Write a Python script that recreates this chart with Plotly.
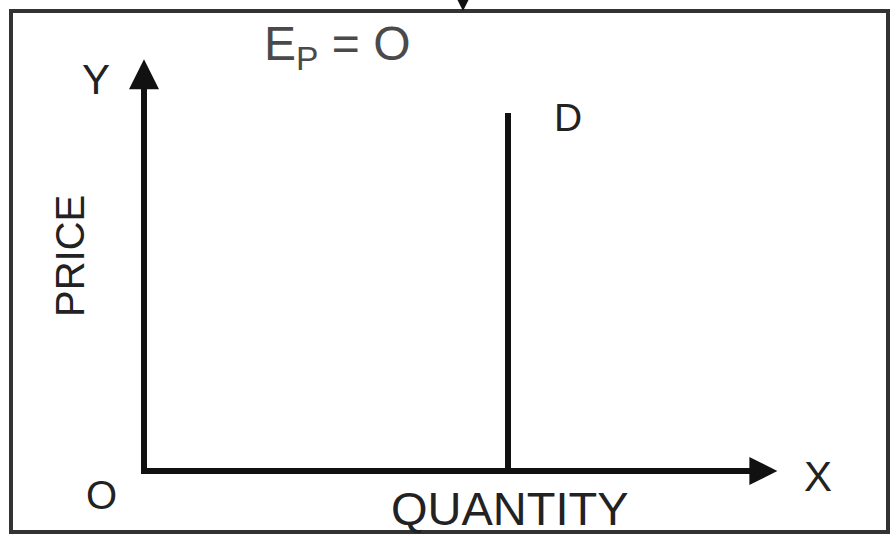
import plotly.graph_objects as go

# ---- data ----
demand_quantity = [5, 5]          # perfectly inelastic demand: fixed quantity
demand_price = [0, 10]            # price range covered by the demand curve
x_axis_end = 8.7                  # quantity axis arrow tip
y_axis_end = 11.5                 # price axis arrow tip
title_text = "E<sub>P</sub> = O"
x_label = "QUANTITY"
y_label = "PRICE"
demand_label = "D"

W, H = 896, 536
# axis scaling (data -> pixels)
X0_PX, Y0_PX = 144, 471
XS = (508 - 144) / 5.0
YS = (471 - 113) / 10.0
xr = [-X0_PX / XS, (W - X0_PX) / XS]
yr = [-(H - Y0_PX) / YS, Y0_PX / YS]

def dx(px):
    return (px - X0_PX) / XS

def dy(py):
    return (Y0_PX - py) / YS

INK = "#111111"
TXT = "#222222"
FONT = "Liberation Sans, Arial, sans-serif"

fig = go.Figure()
# demand curve
fig.add_trace(go.Scatter(x=demand_quantity, y=demand_price, mode="lines",
                         line=dict(color=INK, width=6), hoverinfo="skip",
                         showlegend=False))
# price axis (vertical) with arrow
fig.add_trace(go.Scatter(x=[0, 0], y=[dy(Y0_PX + 3), y_axis_end - 0.3], mode="lines",
                         line=dict(color=INK, width=6), hoverinfo="skip", showlegend=False))
fig.add_trace(go.Scatter(x=[0], y=[y_axis_end], mode="markers",
                         marker=dict(symbol="arrow-up", size=30, color=INK),
                         hoverinfo="skip", showlegend=False))
# quantity axis (horizontal) with arrow
fig.add_trace(go.Scatter(x=[dx(141), x_axis_end - 0.15], y=[0, 0], mode="lines",
                         line=dict(color=INK, width=6), hoverinfo="skip", showlegend=False))
fig.add_trace(go.Scatter(x=[x_axis_end], y=[0], mode="markers",
                         marker=dict(symbol="arrow-right", size=28, color=INK),
                         hoverinfo="skip", showlegend=False))
# small arrow at top of the frame
fig.add_trace(go.Scatter(x=[dx(463)], y=[dy(11)], mode="markers",
                         marker=dict(symbol="arrow-down", size=11, color=INK),
                         hoverinfo="skip", showlegend=False))

ann = []

def label(text, px, py, size, color=TXT, angle=0):
    ann.append(dict(x=dx(px), y=dy(py), xref="x", yref="y", text=text, showarrow=False,
                    font=dict(family=FONT, size=size, color=color), textangle=angle,
                    xanchor="center", yanchor="middle"))

label(title_text, 337, 47, 48, color="#4a4a4a")
label("Y", 96, 79, 42)
label("X", 818, 476, 42)
label("O", 101, 495, 40)
label(demand_label, 568, 117, 39)
label(x_label, 510, 508, 47)
label(y_label, 70, 256, 40, angle=-90)

fig.update_layout(
    width=W, height=H,
    margin=dict(l=0, r=0, t=0, b=0),
    paper_bgcolor="white", plot_bgcolor="white",
    xaxis=dict(range=xr, visible=False, fixedrange=True),
    yaxis=dict(range=yr, visible=False, fixedrange=True),
    annotations=ann,
    shapes=[dict(type="rect", xref="paper", yref="paper",
                 x0=11 / W, x1=888 / W, y0=1 - 532 / H, y1=1 - 11 / H,
                 line=dict(color="#333333", width=4), fillcolor="rgba(0,0,0,0)",
                 layer="below")],
)

fig.write_html("out.html", config={"displayModeBar": False},
               post_script="document.body.style.margin='0';document.body.style.overflow='hidden';")
